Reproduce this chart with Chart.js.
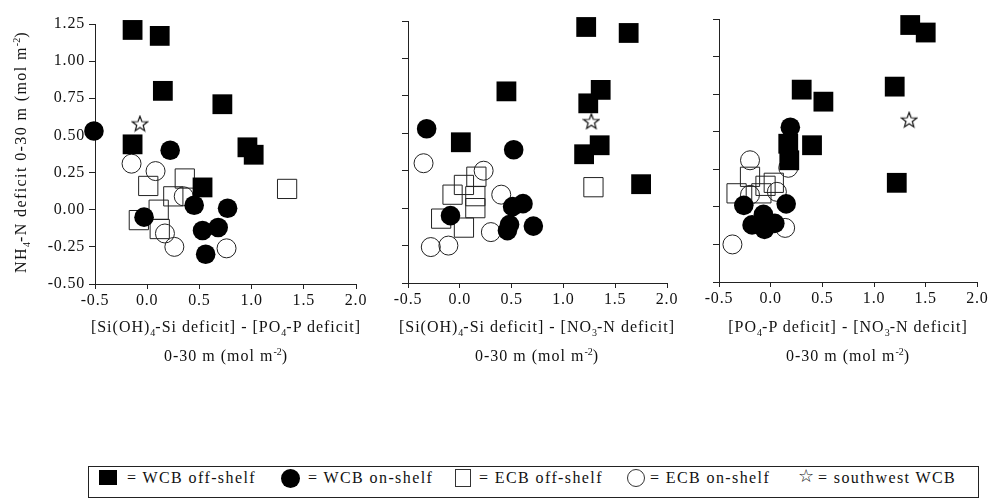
<!DOCTYPE html>
<html>
<head>
<meta charset="utf-8">
<script src="https://cdn.jsdelivr.net/npm/chart.js@4.4.0/dist/chart.umd.min.js"></script>
<style>
  body { margin: 0; background: #fff; }
  #wrap { position: relative; width: 992px; height: 498px; overflow: hidden;
          font-family: "Liberation Serif", "Times New Roman", serif; color: #111; }
  #wrap canvas { position: absolute; top: 0; }
  .xt { position: absolute; width: 360px; text-align: center; font-size: 16px;
        letter-spacing: 1px; white-space: nowrap; line-height: 18px; }
  .yt { position: absolute; left: -143px; top: 142px; width: 320px; height: 20px;
        text-align: center; font-size: 16px; letter-spacing: 1.4px; white-space: nowrap;
        transform: rotate(-90deg); line-height: 20px; }
  sub, sup { font-size: 10px; letter-spacing: 0; }
  sub { vertical-align: -4px; }
  sup { vertical-align: 6px; }
  #legend { position: absolute; left: 88px; top: 466px; width: 889px; height: 30px;
            border: 1px solid #222; }
  .lg { position: absolute; font-size: 16px; letter-spacing: 1.4px; line-height: 16px;
        white-space: nowrap; top: 470px; }
  .mk { position: absolute; box-sizing: border-box; }
</style>
</head>
<body>
<div id="wrap">
  <canvas id="c1" width="372" height="330" style="left:0px"></canvas>
  <canvas id="c2" width="311" height="330" style="left:372px"></canvas>
  <canvas id="c3" width="309" height="330" style="left:683px"></canvas>

  <div class="yt">NH<sub>4</sub>-N deficit 0-30 m (mol m<sup>-2</sup>)</div>

  <div class="xt" style="left:46px; top:318px">[Si(OH)<sub>4</sub>-Si deficit] - [PO<sub>4</sub>-P deficit]</div>
  <div class="xt" style="left:46px; top:343px">0-30 m (mol m<sup>-2</sup>)</div>
  <div class="xt" style="left:357px; top:318px">[Si(OH)<sub>4</sub>-Si deficit] - [NO<sub>3</sub>-N deficit]</div>
  <div class="xt" style="left:357px; top:343px">0-30 m (mol m<sup>-2</sup>)</div>
  <div class="xt" style="left:668px; top:318px">[PO<sub>4</sub>-P deficit] - [NO<sub>3</sub>-N deficit]</div>
  <div class="xt" style="left:668px; top:343px">0-30 m (mol m<sup>-2</sup>)</div>

  <div id="legend"></div>
  <div class="mk" style="left:99px; top:470px; width:18px; height:15px; background:#000"></div>
  <div class="lg" style="left:127px">= WCB off-shelf</div>
  <div class="mk" style="left:281px; top:469px; width:19px; height:19px; background:#000; border-radius:50%"></div>
  <div class="lg" style="left:308px">= WCB on-shelf</div>
  <div class="mk" style="left:455px; top:469px; width:16px; height:18px; border:1px solid #333"></div>
  <div class="lg" style="left:479px">= ECB off-shelf</div>
  <div class="mk" style="left:627px; top:469px; width:18px; height:18px; border:1px solid #333; border-radius:50%"></div>
  <div class="lg" style="left:650px">= ECB on-shelf</div>
  <div class="lg" style="left:798px; font-size:18px; top:468px">&#9734;</div>
  <div class="lg" style="left:818px">= southwest WCB</div>
</div>

<script>
// tick values
const xTicks = [-0.5, 0.0, 0.5, 1.0, 1.5, 2.0];
const yTicks = [-0.5, -0.25, 0.0, 0.25, 0.5, 0.75, 1.0, 1.25];

// Panel 1: [Si(OH)4-Si deficit] - [PO4-P deficit]
const wcbOff1 = [[-0.14, 1.21], [0.12, 1.17], [0.15, 0.80], [0.72, 0.71], [-0.14, 0.44], [0.96, 0.42], [1.02, 0.37], [0.53, 0.15]];
const wcbOn1 = [[-0.51, 0.53], [0.22, 0.40], [-0.03, -0.05], [0.45, 0.03], [0.77, 0.01], [0.53, -0.14], [0.68, -0.12], [0.56, -0.30]];
const ecbOff1 = [[0.01, 0.16], [0.36, 0.21], [0.25, 0.09], [0.11, 0.00], [-0.08, -0.07], [0.12, -0.13], [1.34, 0.14]];
const ecbOn1 = [[-0.15, 0.31], [0.08, 0.26], [0.35, 0.09], [0.17, -0.16], [0.26, -0.25], [0.76, -0.26]];
const swWcb1 = [[-0.07, 0.58]];

// Panel 2: [Si(OH)4-Si deficit] - [NO3-N deficit]
const wcbOff2 = [[1.22, 1.21], [1.63, 1.17], [1.36, 0.79], [0.45, 0.78], [1.24, 0.70], [1.35, 0.42], [1.20, 0.36], [0.01, 0.44], [1.75, 0.16]];
const wcbOn2 = [[-0.32, 0.53], [0.52, 0.39], [-0.09, -0.05], [0.51, 0.01], [0.61, 0.03], [0.46, -0.15], [0.48, -0.11], [0.71, -0.12]];
const ecbOff2 = [[0.16, 0.21], [0.04, 0.155], [-0.07, 0.09], [0.15, 0.08], [0.15, 0.00], [-0.18, -0.07], [0.04, -0.13], [1.29, 0.14]];
const ecbOn2 = [[-0.35, 0.30], [0.23, 0.25], [0.40, 0.09], [0.30, -0.16], [-0.28, -0.26], [-0.11, -0.25]];
const swWcb2 = [[1.27, 0.58]];

// Panel 3: [PO4-P deficit] - [NO3-N deficit]
const wcbOff3 = [[1.35, 1.21], [1.50, 1.16], [1.20, 0.80], [0.30, 0.78], [0.51, 0.70], [0.40, 0.41], [0.17, 0.42], [0.18, 0.31], [1.22, 0.16]];
const wcbOn3 = [[0.19, 0.53], [-0.26, 0.01], [0.15, 0.02], [-0.18, -0.12], [-0.07, -0.05], [-0.06, -0.15], [0.04, -0.11]];
const ecbOff3 = [[-0.33, 0.09], [-0.20, 0.20], [-0.05, 0.14], [0.03, 0.16], [-0.09, 0.09]];
const ecbOn3 = [[-0.20, 0.31], [0.17, 0.26], [-0.20, 0.08], [0.06, 0.10], [0.14, -0.14], [-0.37, -0.25]];
const swWcb3 = [[1.34, 0.58]];

Chart.defaults.font.family = "'Liberation Serif', 'Times New Roman', serif";
Chart.defaults.font.size = 16;
Chart.defaults.color = '#111';

// outlined five point star for the southwest WCB station
function starImage(size) {
    const c = document.createElement('canvas');
    c.width = size;
    c.height = size;
    const g = c.getContext('2d');
    const cx = size / 2, cy = size / 2 + 0.7, R = size / 2 - 1, r = R * 0.42;
    g.beginPath();
    for (let i = 0; i < 10; i++) {
        const a = -Math.PI / 2 + i * Math.PI / 5;
        const rr = i % 2 ? r : R;
        g.lineTo(cx + rr * Math.cos(a), cy + rr * Math.sin(a));
    }
    g.closePath();
    g.lineWidth = 1.2;
    g.strokeStyle = '#111';
    g.stroke();
    return c;
}
const star = starImage(18);

const spacing = {
    id: 'spacing',
    beforeDraw(chart) { chart.ctx.letterSpacing = '0.8px'; }
};

function makeDatasets(off, on, eOff, eOn, sw) {
    return [
        { label: 'WCB off-shelf', data: off, clip: false, pointStyle: 'rect', pointRadius: 14,
          pointHoverRadius: 14, backgroundColor: '#000', borderColor: '#000', borderWidth: 0 },
        { label: 'WCB on-shelf', data: on, clip: false, pointStyle: 'circle', pointRadius: 9.8,
          pointHoverRadius: 9.8, backgroundColor: '#000', borderColor: '#000', borderWidth: 0 },
        { label: 'ECB off-shelf', data: eOff, clip: false, pointStyle: 'rect', pointRadius: 13.6,
          pointHoverRadius: 13.6, backgroundColor: 'rgba(255,255,255,0)', borderColor: '#222', borderWidth: 1 },
        { label: 'ECB on-shelf', data: eOn, clip: false, pointStyle: 'circle', pointRadius: 9.5,
          pointHoverRadius: 9.5, backgroundColor: 'rgba(255,255,255,0)', borderColor: '#222', borderWidth: 1 },
        { label: 'southwest WCB', data: sw, clip: false, pointStyle: star, pointRadius: 9,
          backgroundColor: '#fff', borderColor: '#111', borderWidth: 1 }
    ];
}

function makePanel(id, datasets, yAxisWidth, top, bottom, rightPad, showY) {
    const canvas = document.getElementById(id);
    return new Chart(canvas, {
        type: 'scatter',
        data: { datasets: datasets },
        options: {
            responsive: false,
            animation: false,
            events: [],
            layout: { padding: { top: top, left: 0, right: rightPad, bottom: 0 } },
            plugins: { legend: { display: false }, tooltip: { enabled: false } },
            scales: {
                x: {
                    type: 'linear',
                    min: -0.5,
                    max: 2.0,
                    afterBuildTicks: s => { s.ticks = xTicks.map(v => ({ value: v })); },
                    afterFit: s => { s.height = canvas.height - bottom; },
                    ticks: { padding: 2, maxRotation: 0, callback: v => v.toFixed(1) },
                    grid: { drawOnChartArea: false, drawTicks: true, tickLength: 5, color: '#222' },
                    border: { display: true, color: '#222', width: 1 }
                },
                y: {
                    type: 'linear',
                    min: -0.5,
                    max: 1.25,
                    afterBuildTicks: s => { s.ticks = yTicks.map(v => ({ value: v })); },
                    afterFit: s => { s.width = yAxisWidth; },
                    ticks: { display: showY, padding: 4, callback: v => v.toFixed(2) },
                    grid: { drawOnChartArea: false, drawTicks: true, tickLength: 6, color: '#222' },
                    border: { display: true, color: '#222', width: 1 }
                }
            }
        },
        plugins: [spacing]
    });
}

makePanel('c1', makeDatasets(wcbOff1, wcbOn1, ecbOff1, ecbOn1, swWcb1), 95, 24, 284, 16, true);
makePanel('c2', makeDatasets(wcbOff2, wcbOn2, ecbOff2, ecbOn2, swWcb2), 36, 21, 283, 16, false);
makePanel('c3', makeDatasets(wcbOff3, wcbOn3, ecbOff3, ecbOn3, swWcb3), 36, 19, 282, 14, false);
</script>
</body>
</html>
